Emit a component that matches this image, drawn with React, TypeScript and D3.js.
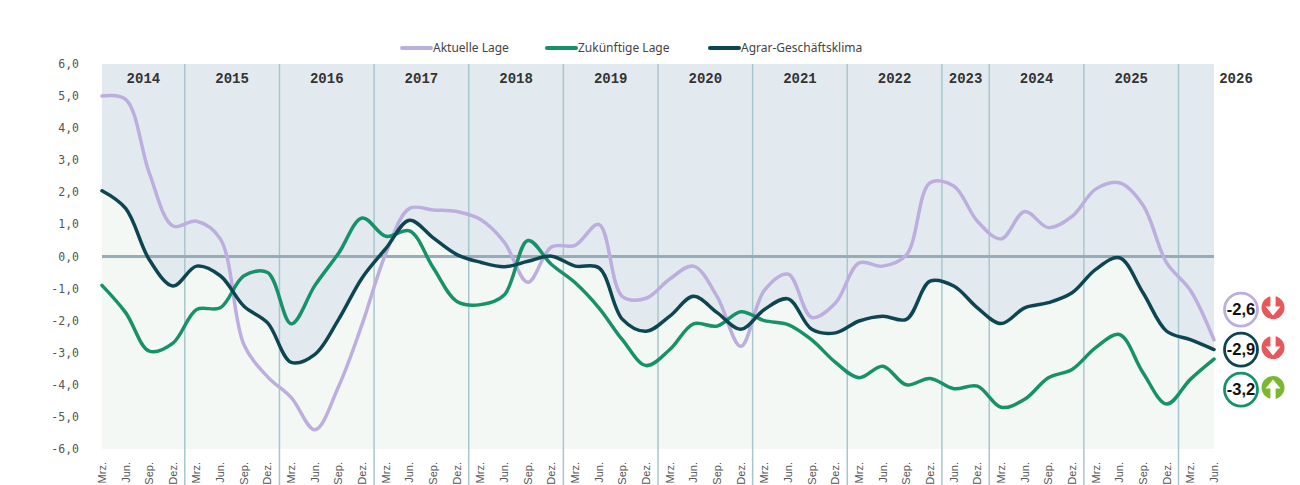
import * as d3 from 'd3'

const YEARS = ['2014', '2015', '2016', '2017', '2018', '2019', '2020', '2021', '2022', '2023', '2024', '2025', '2026']
const Q = ['Mrz.', 'Jun.', 'Sep.', 'Dez.']
const MONTHS_BY_YEAR = [Q, Q, Q, Q, Q, Q, Q, Q, Q, ['Jun.', 'Dez.'], Q, Q, ['Mrz.', 'Jun.']]

const AKTUELLE = [
  5.0, 4.9, 2.6, 0.95, 1.1, 0.55, -2.75, -3.75, -4.4, -5.4, -4.05, -2.1,
  0.1, 1.5, 1.45, 1.4, 1.15, 0.45, -0.8, 0.3, 0.35, 1.0, -1.25, -1.3,
  -0.7, -0.3, -1.25, -2.8, -1.05, -0.55, -1.9, -1.45, -0.2, -0.3, 0.05, 2.3,
  2.2, 1.1, 0.55, 1.4, 0.9, 1.25, 2.1, 2.3, 1.6, -0.2, -1.05, -2.6,
]
const ZUKUENFTIGE = [
  -0.9, -1.75, -2.95, -2.7, -1.65, -1.6, -0.6, -0.5, -2.1, -0.9, 0.1, 1.2,
  0.63, 0.8, -0.35, -1.4, -1.5, -1.2, 0.5, -0.25, -0.82, -1.6, -2.6, -3.4,
  -2.9, -2.1, -2.17, -1.72, -2.0, -2.12, -2.6, -3.3, -3.78, -3.42, -4.0, -3.8,
  -4.12, -4.04, -4.7, -4.45, -3.78, -3.52, -2.84, -2.43, -3.62, -4.6, -3.83, -3.2,
]
const KLIMA = [
  2.05, 1.5, -0.1, -0.92, -0.3, -0.6, -1.55, -2.07, -3.3, -3.05, -1.96, -0.66,
  0.25, 1.13, 0.58, 0.06, -0.18, -0.32, -0.15, 0.01, -0.3, -0.35, -1.96, -2.33,
  -1.86, -1.24, -1.75, -2.27, -1.65, -1.32, -2.27, -2.38, -2.01, -1.86, -1.96, -0.77,
  -0.92, -1.6, -2.09, -1.6, -1.44, -1.13, -0.4, -0.04, -1.13, -2.33, -2.59, -2.9,
]
const Y_TICKS = [6, 5, 4, 3, 2, 1, 0, -1, -2, -3, -4, -5, -6]

const SERIES = [
  { name: 'Aktuelle Lage', values: AKTUELLE, color: '#bcaedd' },
  { name: 'Zukünftige Lage', values: ZUKUENFTIGE, color: '#17916a' },
  { name: 'Agrar-Geschäftsklima', values: KLIMA, color: '#0d4651' },
]

const W = 1300
const H = 485
const LEFT = 102
const RIGHT = 1214
const TOP = 64
const BOTTOM = 449

const periods = YEARS.flatMap((y, yi) => MONTHS_BY_YEAR[yi].map(m => ({ year: y, month: m })))
const fmt = (v: number) => v.toFixed(1).replace('.', ',')

function Arrow({ cx, cy, up, color }: { cx: number; cy: number; up: boolean; color: string }) {
  const s = up ? -1 : 1
  const p = d3.path()
  p.moveTo(cx - 2.6, cy - s * 12)
  p.lineTo(cx - 2.6, cy - s * 1)
  p.lineTo(cx - 7.5, cy - s * 1)
  p.lineTo(cx, cy + s * 8)
  p.lineTo(cx + 7.5, cy - s * 1)
  p.lineTo(cx + 2.6, cy - s * 1)
  p.lineTo(cx + 2.6, cy - s * 12)
  p.closePath()
  return (
    <g>
      <circle cx={cx} cy={cy} r={11.5} fill={color} />
      <path d={p.toString()} fill="#fff" />
    </g>
  )
}

export default function App() {
  const x = d3.scalePoint<number>().domain(periods.map((_, i) => i)).range([LEFT, RIGHT]).padding(0)
  const y = d3.scaleLinear().domain([-6, 6]).range([BOTTOM, TOP])
  const px = (i: number) => x(i) as number

  const line = d3.line<number>().x((_, i) => px(i)).y(d => y(d)).curve(d3.curveCatmullRom.alpha(0.5))
  const area = d3.area<number>().x((_, i) => px(i)).y0(y(-6)).y1(d => y(d)).curve(d3.curveCatmullRom.alpha(0.5))

  // year boundaries: midway between last point of one year and first of next
  const starts: number[] = []
  let acc = 0
  MONTHS_BY_YEAR.forEach(ms => { starts.push(acc); acc += ms.length })
  const seps = starts.slice(1).map(s => (px(s - 1) + px(s)) / 2)
  const bandEdges = [LEFT, ...seps, RIGHT]

  const n = periods.length
  const last = SERIES.map(s => ({ ...s, v: s.values[n - 1], prev: s.values[n - 2] }))
    .sort((a, b) => b.v - a.v)
  const midY = y(d3.mean(last, d => d.v) as number)

  const legendItems = [
    { x: 402, text: 'Aktuelle Lage' },
    { x: 547, text: 'Zukünftige Lage' },
    { x: 710, text: 'Agrar-Geschäftsklima' },
  ]

  return (
    <div style={{ position: 'absolute', left: 0, top: 0 }}>
      <svg width={W} height={H} style={{ display: 'block', background: '#fff' }}>
        <rect x={LEFT} y={TOP} width={RIGHT - LEFT} height={BOTTOM - TOP} fill="#e3eaef" />
        <path d={area(KLIMA) ?? ''} fill="#f3f8f5" />

        {seps.map((sx, i) => (
          <line key={i} x1={sx} x2={sx} y1={TOP} y2={H} stroke="#a8c6cd" strokeWidth={1.5} />
        ))}

        {YEARS.map((yr, i) => {
          const cx = i === YEARS.length - 1 ? RIGHT + 22 : (bandEdges[i] + bandEdges[i + 1]) / 2
          return (
            <text key={yr} x={cx} y={78} dy="0.35em" textAnchor="middle"
              fontFamily="'Liberation Mono', 'DejaVu Sans Mono', monospace" fontWeight="bold"
              fontSize={14} fill="#333">{yr}</text>
          )
        })}

        <line x1={LEFT} x2={RIGHT} y1={y(0)} y2={y(0)} stroke="#98acb7" strokeWidth={3} />

        {Y_TICKS.map(t => (
          <text key={t} x={79} y={y(t)} dy="0.35em" textAnchor="end"
            fontFamily="'DejaVu Sans Mono', monospace" fontSize={11.5} fill="#555">{fmt(t)}</text>
        ))}

        {periods.map((p, i) => (
          <text key={i} transform={`translate(${px(i)},462) rotate(-90)`} dy="0.35em" textAnchor="end"
            fontFamily="'Liberation Sans', Arial, sans-serif" fontSize={11} fill="#555">{p.month}</text>
        ))}

        {SERIES.map(s => (
          <path key={s.name} d={line(s.values) ?? ''} fill="none" stroke={s.color}
            strokeWidth={3.5} strokeLinecap="round" strokeLinejoin="round" />
        ))}

        {legendItems.map((it, i) => (
          <g key={it.text}>
            <line x1={it.x} x2={it.x + 29} y1={48} y2={48} stroke={SERIES[i].color} strokeWidth={4} strokeLinecap="round" />
            <text x={it.x + 31} y={48} dy="0.35em" fontFamily="'Noto Sans', Lato, sans-serif" fontSize={12} fill="#444">{it.text}</text>
          </g>
        ))}

        {last.map((s, i) => {
          const cy = midY + (i - 1) * 40
          return (
            <g key={s.name}>
              <circle cx={1241} cy={cy} r={16.5} fill="#fff" stroke={s.color} strokeWidth={2.8} />
              <text x={1241} y={cy} dy="0.36em" textAnchor="middle"
                fontFamily="'Liberation Sans', Arial, sans-serif" fontWeight="bold" fontSize={16.5} fill="#111">{fmt(s.v)}</text>
              <Arrow cx={1273} cy={cy - 2} up={s.v > s.prev} color={s.v > s.prev ? '#7cb82f' : '#e8585a'} />
            </g>
          )
        })}
      </svg>
    </div>
  )
}
